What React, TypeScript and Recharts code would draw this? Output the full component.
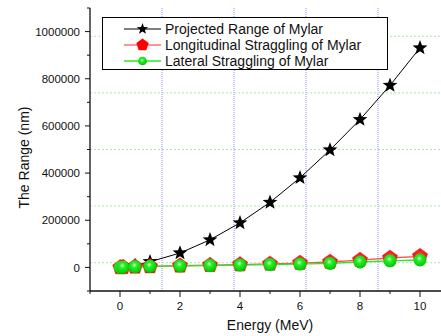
import React from "react";
import { LineChart, Line, XAxis, YAxis, ReferenceLine } from "recharts";

// energy in MeV, ranges in nm
const energy = [0.01, 0.1, 0.5, 1, 2, 3, 4, 5, 6, 7, 8, 9, 10];
const projectedRange = [150, 1300, 8000, 24000, 61000, 117000, 189000, 276000, 380000, 498000, 627000, 772000, 931000];
const longitudinal = [100, 800, 2500, 4000, 7000, 9500, 12000, 15000, 18500, 23000, 31000, 40000, 47000];
const lateral = [100, 900, 3000, 4500, 6500, 8000, 10000, 12000, 14000, 17000, 23000, 28000, 31500];

const xTicks = [-1, 0, 1, 2, 3, 4, 5, 6, 7, 8, 9, 10, 11];
const yTicks = [-100000, 0, 100000, 200000, 300000, 400000, 500000, 600000, 700000, 800000, 900000, 1000000, 1100000];
// top axis ticks (on the energy scale), every other one is a major tick
const topTicks = [-1, 0.2, 1.4, 2.6, 3.8, 5, 6.2, 7.4, 8.6, 9.8, 11];
const vGrid = [1.4, 3.8, 6.2, 8.6];
const hGrid = [20000, 260000, 500000, 740000, 980000];

const seriesNames = [
  "Projected Range of Mylar",
  "Longitudinal Straggling of Mylar",
  "Lateral Straggling of Mylar",
];

const data = energy.map((e, i) => ({
  energy: e,
  projected: projectedRange[i],
  longitudinal: longitudinal[i],
  lateral: lateral[i],
}));

const FONT = "'Liberation Sans', Arial, sans-serif";
const TICK_SIZE = 6;
const TICK_MARGIN = 4;

function starPath(cx: number, cy: number, R: number, r: number) {
  let d = "";
  for (let i = 0; i < 10; i++) {
    const rad = i % 2 === 0 ? R : r;
    const a = -Math.PI / 2 + (i * Math.PI) / 5;
    d += (i === 0 ? "M" : "L") + (cx + rad * Math.cos(a)).toFixed(2) + "," + (cy + rad * Math.sin(a)).toFixed(2);
  }
  return d + "Z";
}

function pentagonPath(cx: number, cy: number, R: number) {
  let d = "";
  for (let i = 0; i < 5; i++) {
    const a = -Math.PI / 2 + (i * 2 * Math.PI) / 5;
    d += (i === 0 ? "M" : "L") + (cx + R * Math.cos(a)).toFixed(2) + "," + (cy + R * Math.sin(a)).toFixed(2);
  }
  return d + "Z";
}

const StarDot = (props: any) => {
  const { cx, cy, index } = props;
  if (cx == null || cy == null) return <g key={index} />;
  return <path key={index} d={starPath(cx, cy, 7.8, 3.3)} fill="#000" />;
};

const PentDot = (props: any) => {
  const { cx, cy, index } = props;
  if (cx == null || cy == null) return <g key={index} />;
  return <path key={index} d={pentagonPath(cx, cy, 8)} fill="url(#redShade)" stroke="#ff2020" strokeWidth={0.5} />;
};

const SphereDot = (props: any) => {
  const { cx, cy, index } = props;
  if (cx == null || cy == null) return <g key={index} />;
  return <circle key={index} cx={cx} cy={cy} r={6.5} fill="url(#greenSphere)" />;
};

const LeftTick = (props: any) => {
  const { x, y, payload } = props;
  const v = payload.value;
  const ax = x + TICK_SIZE + TICK_MARGIN;
  const major = v % 200000 === 0;
  return (
    <g>
      <line x1={ax} x2={ax - (major ? 5 : 3)} y1={y} y2={y} stroke="#111" strokeWidth={1} />
      {major && (
        <text x={x} y={y} dy="0.36em" textAnchor="end" fontSize={11.5} fontFamily={FONT} fill="#111">
          {v}
        </text>
      )}
    </g>
  );
};

const BottomTick = (props: any) => {
  const { x, y, payload } = props;
  const v = payload.value;
  const ay = y - TICK_SIZE - TICK_MARGIN;
  const major = v % 2 === 0;
  return (
    <g>
      <line x1={x} x2={x} y1={ay} y2={ay + (major ? 6 : 3)} stroke="#111" strokeWidth={1} />
      {major && v >= 0 && v <= 10 && (
        <text x={x} y={y} dy="0.75em" textAnchor="middle" fontSize={11.5} fontFamily={FONT} fill="#111">
          {v}
        </text>
      )}
    </g>
  );
};

const TopTick = (props: any) => {
  const { x, y, index } = props;
  const ay = y + TICK_SIZE + TICK_MARGIN;
  const major = index % 2 === 0;
  return <line x1={x} x2={x} y1={ay} y2={ay + (major ? 6 : 4)} stroke="#111" strokeWidth={1} />;
};

const LegendIcon = ({ kind }: { kind: number }) => {
  if (kind === 0)
    return (
      <svg width={40} height={14}>
        <line x1={1} x2={38} y1={7} y2={7} stroke="#000" strokeWidth={1} />
        <path d={starPath(19.5, 7, 6, 2.4)} fill="#000" />
      </svg>
    );
  if (kind === 1)
    return (
      <svg width={40} height={14}>
        <line x1={1} x2={38} y1={7} y2={7} stroke="#ff7070" strokeWidth={1.3} />
        <path d={pentagonPath(19.5, 7, 6.5)} fill="#ff0000" />
      </svg>
    );
  return (
    <svg width={40} height={14}>
      <line x1={1} x2={38} y1={7} y2={7} stroke="#22ee22" strokeWidth={1.3} />
      <circle cx={19.5} cy={7} r={4.3} fill="url(#greenSphereL)" />
      <defs>
        <radialGradient id="greenSphereL" cx="45%" cy="40%" r="60%">
          <stop offset="0%" stopColor="#c8ffc8" />
          <stop offset="35%" stopColor="#22f022" />
          <stop offset="100%" stopColor="#00c000" />
        </radialGradient>
      </defs>
    </svg>
  );
};

export default function App() {
  return (
    <div
      style={{
        position: "absolute",
        left: 0,
        top: 0,
        width: 441,
        height: 336,
        overflow: "hidden",
        background: "#fff",
      }}
    >
      <LineChart width={460} height={336} data={data} margin={{ top: 8, right: 10, bottom: 0, left: 0 }}>
        <defs>
          <radialGradient id="greenSphere" cx="45%" cy="38%" r="62%">
            <stop offset="0%" stopColor="#d8ffd8" />
            <stop offset="30%" stopColor="#2af02a" />
            <stop offset="100%" stopColor="#00c400" />
          </radialGradient>
          <radialGradient id="redShade" cx="50%" cy="45%" r="60%">
            <stop offset="0%" stopColor="#ff4040" />
            <stop offset="100%" stopColor="#ee0000" />
          </radialGradient>
        </defs>
        <XAxis
          xAxisId="bottom"
          dataKey="energy"
          type="number"
          domain={[-1, 11]}
          allowDataOverflow
          ticks={xTicks}
          interval={0}
          height={45}
          tickSize={TICK_SIZE}
          tickMargin={TICK_MARGIN}
          tickLine={false}
          tick={<BottomTick />}
          axisLine={{ stroke: "#111", strokeWidth: 1.3 }}
          label={{
            value: "Energy (MeV)",
            position: "insideBottom",
            offset: 6,
            style: { fontSize: 14, fontFamily: FONT, fill: "#111" },
          }}
        />
        <XAxis
          xAxisId="top"
          orientation="top"
          dataKey="energy"
          type="number"
          domain={[-1, 11]}
          allowDataOverflow
          ticks={topTicks}
          interval={0}
          height={0}
          tickSize={TICK_SIZE}
          tickMargin={TICK_MARGIN}
          tickLine={false}
          tick={<TopTick />}
          axisLine={{ stroke: "#111", strokeWidth: 1.3 }}
        />
        <YAxis
          yAxisId="left"
          type="number"
          domain={[-100000, 1100000]}
          allowDataOverflow
          ticks={yTicks}
          interval={0}
          width={90}
          tickSize={TICK_SIZE}
          tickMargin={TICK_MARGIN}
          tickLine={false}
          tick={<LeftTick />}
          axisLine={{ stroke: "#111", strokeWidth: 1.3 }}
          label={(p: any) => {
            const vb = p.viewBox || { x: 0, y: 8, width: 90, height: 283 };
            const cx = vb.x + 24;
            const cy = vb.y + vb.height / 2 + 8;
            return (
              <text
                x={cx}
                y={cy}
                transform={`rotate(-90, ${cx}, ${cy})`}
                textAnchor="middle"
                dominantBaseline="central"
                fontSize={14}
                fontFamily={FONT}
                fill="#111"
              >
                The Range (nm)
              </text>
            );
          }}
        />
        {vGrid.map((v) => (
          <ReferenceLine
            key={"v" + v}
            xAxisId="bottom"
            yAxisId="left"
            x={v}
            stroke="#8c8cff"
            strokeDasharray="1 1"
            strokeWidth={1}
          />
        ))}
        {hGrid.map((v) => (
          <ReferenceLine
            key={"h" + v}
            xAxisId="bottom"
            yAxisId="left"
            y={v}
            stroke="#a0eea0"
            strokeDasharray="2 2"
            strokeWidth={1}
          />
        ))}
        <Line
          xAxisId="bottom"
          yAxisId="left"
          type="linear"
          dataKey="projected"
          stroke="#000"
          strokeWidth={1}
          dot={StarDot}
          activeDot={false}
          isAnimationActive={false}
        />
        <Line
          xAxisId="bottom"
          yAxisId="left"
          type="linear"
          dataKey="longitudinal"
          stroke="#ff5050"
          strokeWidth={1.3}
          dot={PentDot}
          activeDot={false}
          isAnimationActive={false}
        />
        <Line
          xAxisId="bottom"
          yAxisId="left"
          type="linear"
          dataKey="lateral"
          stroke="#22ee22"
          strokeWidth={1.3}
          dot={SphereDot}
          activeDot={false}
          isAnimationActive={false}
        />
      </LineChart>
      <div
        style={{
          position: "absolute",
          left: 102,
          top: 17,
          width: 286,
          height: 53,
          border: "1px solid #000",
          background: "#fff",
          boxSizing: "border-box",
          fontFamily: FONT,
          fontSize: 14,
          color: "#111",
          paddingTop: 3,
        }}
      >
        {seriesNames.map((name, i) => (
          <div key={name} style={{ display: "flex", alignItems: "center", height: 16, marginLeft: 20 }}>
            <LegendIcon kind={i} />
            <span style={{ marginLeft: 2, lineHeight: "16px" }}>{name}</span>
          </div>
        ))}
      </div>
    </div>
  );
}
